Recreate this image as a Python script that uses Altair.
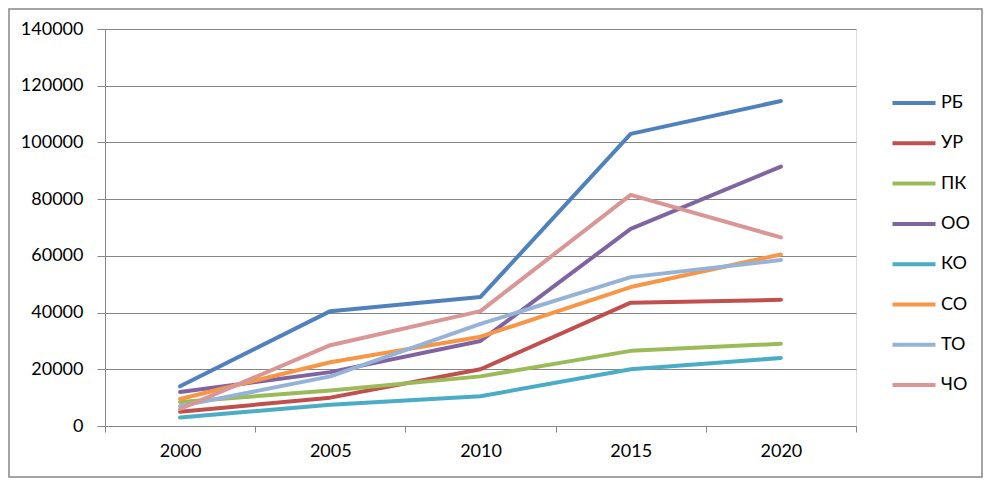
import altair as alt
import pandas as pd

years = ["2000", "2005", "2010", "2015", "2020"]
series = ["РБ", "УР", "ПК", "ОО", "КО", "СО", "ТО", "ЧО"]
colors = ["#4F81BD", "#C0504D", "#9BBB59", "#8064A2", "#4BACC6", "#F79646", "#95B3D7", "#D99694"]

rb = [14000, 40500, 45500, 103000, 114600]
ur = [5000, 10000, 20000, 43500, 44500]
pk = [8500, 12500, 17500, 26500, 29000]
oo = [12000, 19000, 30000, 69500, 91500]
ko = [3000, 7500, 10500, 20000, 24000]
so = [9500, 22500, 31500, 49000, 60500]
to = [7000, 17500, 36000, 52500, 58500]
cho = [6000, 28500, 40500, 81500, 66500]

values = [rb, ur, pk, oo, ko, so, to, cho]
rows = []
for name, vals in zip(series, values):
    for y, v in zip(years, vals):
        rows.append({"year": y, "series": name, "value": v})
df = pd.DataFrame(rows)

FONT = "Lato"
GRAY = "#868686"

lines = alt.Chart(df).mark_line(strokeWidth=4, strokeJoin="round", strokeCap="round").encode(
    x=alt.X("year:O", bandPosition=0.5,
            scale=alt.Scale(type="band", paddingInner=0, paddingOuter=0),
            axis=alt.Axis(title=None, labelAngle=0, tickBand="extent", grid=False,
                          domainColor=GRAY, tickColor=GRAY, tickSize=6,
                          labelFont=FONT, labelFontSize=18, labelColor="#000000",
                          labelPadding=10)),
    y=alt.Y("value:Q", scale=alt.Scale(domain=[0, 140000], nice=False),
            axis=alt.Axis(title=None, values=list(range(0, 140001, 20000)), format="d",
                          grid=True, gridColor=GRAY, domainColor=GRAY, tickColor=GRAY,
                          tickSize=8, labelFont=FONT, labelFontSize=18,
                          labelColor="#000000", labelPadding=14)),
    color=alt.Color("series:N", sort=series,
                    scale=alt.Scale(domain=series, range=colors),
                    legend=alt.Legend(title=None, orient="none", legendX=785, legendY=50,
                                      symbolType="stroke", symbolStrokeWidth=4,
                                      symbolSize=1850, labelFont=FONT, labelFontSize=18,
                                      labelColor="#000000", rowPadding=7.3, labelOffset=3)),
)

border = alt.Chart(pd.DataFrame({"a": [0]})).mark_rect(
    fill=None, stroke=GRAY, strokeWidth=1.5
).encode(x=alt.value(-96), x2=alt.value(877), y=alt.value(-20), y2=alt.value(448))

chart = alt.layer(border, lines).properties(
    width=751, height=397,
    autosize=alt.AutoSizeParams(type="none"),
    padding={"left": 97, "top": 21, "right": 128, "bottom": 54},
).configure_view(stroke=None).configure(background="white")

chart.save("out.html", embed_options={"renderer": "svg", "actions": False})
